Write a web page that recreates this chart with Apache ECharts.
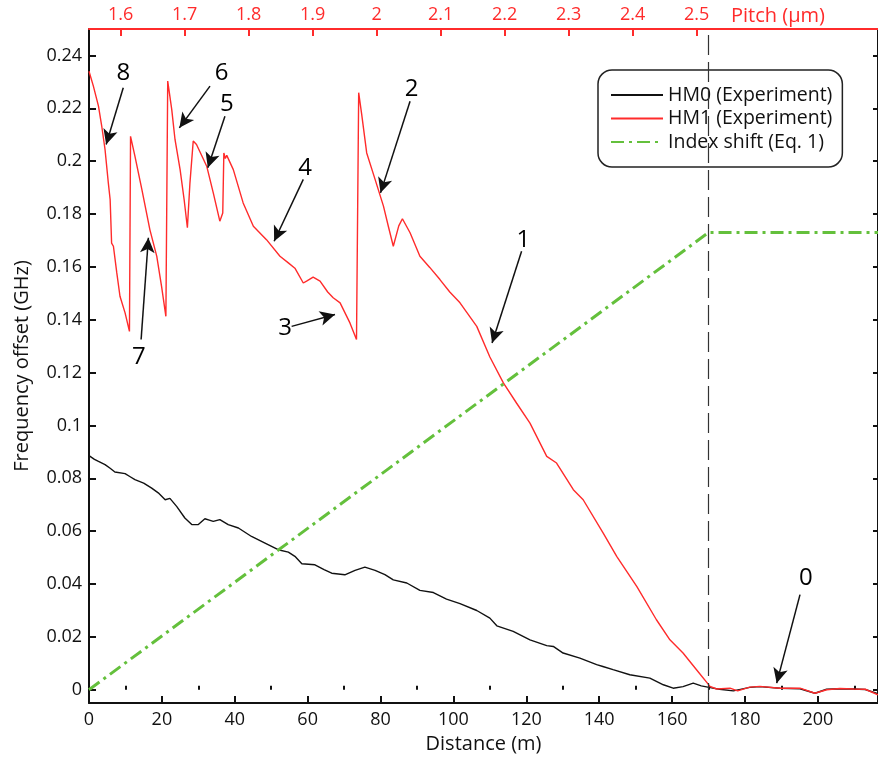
<!DOCTYPE html>
<html><head><meta charset="utf-8">
<script src="https://cdn.jsdelivr.net/npm/echarts@6/dist/echarts.min.js"></script>
<style>html,body{margin:0;padding:0;background:#fff}#c{width:878px;height:761px}</style>
</head><body><div id="c"></div>
<script>
const distanceTicks = [0,20,40,60,80,100,120,140,160,180,200];
const distanceMinorTicks = [10,30,50,70,90,110,130,150,170,190,210];
const offsetTicks = [0,0.02,0.04,0.06,0.08,0.1,0.12,0.14,0.16,0.18,0.2,0.22,0.24];
const pitchTicks = [1.6,1.7,1.8,1.9,2.0,2.1,2.2,2.3,2.4,2.5];
const pitchRange = [1.5505, 2.7835];
const distanceRange = [0, 216.5];
const offsetRange = [-0.005, 0.25];
const boundaryDistance = 170;

const hm0Points = [[0,0.0886],[0.5,0.0886],[1.5,0.0872],[2.6,0.0864],[4.4,0.0852],[5.8,0.0838],[7.1,0.0824],[9.9,0.0818],[11.3,0.0806],[12.6,0.0795],[15,0.0782],[17.2,0.0763],[19,0.0745],[20.9,0.0719],[22.2,0.0724],[24.1,0.0693],[26.3,0.065],[28.2,0.0625],[30.0,0.0625],[31.8,0.0647],[33,0.0642],[34.1,0.0637],[35.9,0.0644],[38.2,0.0625],[41.0,0.0612],[44.6,0.058],[48.3,0.0555],[51.9,0.053],[54.7,0.0521],[56.5,0.0505],[58.4,0.0477],[62.0,0.0473],[64.5,0.0455],[66.6,0.0441],[70.2,0.0435],[73.0,0.0452],[75.7,0.0464],[78.5,0.0452],[81.2,0.0436],[83.5,0.0416],[87.2,0.0404],[90.8,0.0376],[94.5,0.0368],[98.1,0.0343],[101.8,0.0326],[106.4,0.03],[110.0,0.0271],[111.9,0.0242],[116.4,0.0221],[121.0,0.0189],[125.6,0.0167],[127.4,0.0164],[130.1,0.0139],[134.7,0.012],[139.3,0.0095],[141,0.0088],[143.8,0.0076],[148.4,0.0057],[153.9,0.0044],[157.6,0.0019],[160.3,0.0006],[163,0.0012],[165.8,0.0025],[168,0.0015],[170.5,0.0008],[173,0.0002],[176.8,-0.0004],[181.3,0.0009],[184.1,0.0012],[189.6,0.0006],[195.1,0.0004],[199.2,-0.0013],[202.4,0.0002],[206,0.0004],[209.7,0.0003],[213,0.0001],[216.5,-0.0015]];

const hm1Points = [[0,0.234],[1.2,0.2284],[2.6,0.2208],[3.5,0.2132],[4.4,0.2044],[5.3,0.1918],[5.8,0.1855],[6.2,0.169],[6.7,0.1678],[7.6,0.158],[8.5,0.1489],[9.9,0.1426],[11.1,0.1356],[11.4,0.2094],[12.6,0.2019],[14.5,0.1893],[16.7,0.1741],[18.6,0.164],[19.9,0.1527],[21.1,0.1413],[21.6,0.2303],[22.7,0.2196],[23.6,0.2082],[25.0,0.1968],[26.1,0.1855],[27.0,0.1748],[27.7,0.1918],[28.6,0.2076],[29.5,0.2063],[32.3,0.1981],[34.1,0.188],[35.9,0.1773],[36.7,0.1804],[37.0,0.2031],[37.4,0.201],[37.8,0.2022],[39.6,0.1968],[42.3,0.1842],[45.1,0.1754],[48.7,0.1703],[52.4,0.164],[54.7,0.1615],[56.5,0.1595],[58.8,0.1539],[59.7,0.1546],[61.5,0.1561],[63.4,0.1546],[65.5,0.1505],[67.0,0.1483],[68.9,0.1464],[71.6,0.1388],[73.4,0.1325],[74.0,0.2259],[74.8,0.218],[76.2,0.2031],[78.5,0.1931],[80.8,0.183],[82.2,0.175],[83.5,0.1678],[85.0,0.1755],[86.0,0.1782],[88.1,0.1729],[90.8,0.164],[93.5,0.1598],[96.3,0.1552],[99,0.1505],[101.8,0.1464],[106.4,0.1375],[110.0,0.1259],[113.7,0.1161],[117.3,0.1085],[121.0,0.1009],[125.6,0.0883],[128.3,0.0858],[132.9,0.0757],[135.6,0.0719],[141.1,0.0593],[144.8,0.0505],[150.3,0.0391],[155.7,0.0265],[159.4,0.0189],[163.0,0.0139],[166.7,0.0076],[170.4,0.0013],[172.2,0.0003],[175.9,0.0006],[178,-0.0004],[181.3,0.001],[184.1,0.0013],[189.6,0.0006],[195.1,0.0006],[199.2,-0.0013],[202.4,0.0],[206,0.0005],[209.7,0.0003],[213,0.0002],[216.5,-0.0019]];

const indexShiftPoints = [[0,0],[170,0.173],[216.5,0.173]];

const annotationNames = ['0','1','2','3','4','5','6','7','8'];
const annotationLabelAt = [[196.7,0.0424],[119.2,0.1703],[88.5,0.2271],[53.8,0.1369],[59.3,0.1975],[37.8,0.2214],[36.4,0.2334],[13.7,0.1257],[9.4,0.2334]];
const annotationTail = [[195.1,0.036],[118.7,0.1659],[88.1,0.2227],[55.6,0.1375],[58.8,0.1931],[37.3,0.217],[33.2,0.2284],[14.3,0.1325],[9.4,0.2278]];
const annotationTip = [[188.7,0.0025],[110.6,0.1312],[80.0,0.188],[67.5,0.142],[50.8,0.1697],[32.6,0.1975],[24.8,0.2126],[16.3,0.171],[4.7,0.2063]];

const FONT = "'Open Sans', sans-serif";
const RED = '#ff2b2b';
const GREEN = '#64c03c';
const INK = '#111';

const chart = echarts.init(document.getElementById('c'), null, {renderer: 'canvas'});
const option = {
  animation: false,
  backgroundColor: '#fff',
  grid: [
    {left: 89, right: 0, top: 29, bottom: 58},
    {left: 89, right: 0, top: 29, bottom: 58}
  ],
  legend: {
    orient: 'vertical', left: 598, top: 70,
    padding: [15, 10, 15, 12], itemGap: 3.5, itemWidth: 52, itemHeight: 14,
    backgroundColor: '#fff', borderColor: '#222', borderWidth: 1.5, borderRadius: 14,
    itemStyle: {opacity: 0},
    textStyle: {fontSize: 19.5, fontFamily: FONT, color: INK, lineHeight: 20},
    data: ['HM0 (Experiment)', 'HM1 (Experiment)', 'Index shift (Eq. 1)'],
    selectedMode: false
  },
  xAxis: [
    {
      type: 'value', gridIndex: 0, position: 'bottom', min: distanceRange[0], max: distanceRange[1],
      axisLine: {show: true, onZero: false, lineStyle: {color: INK, width: 2}},
      axisTick: {show: true, inside: true, length: 7, customValues: distanceTicks, lineStyle: {color: INK, width: 2}},
      axisLabel: {customValues: distanceTicks, fontSize: 18, fontFamily: FONT, color: INK, margin: 8},
      splitLine: {show: false},
      name: 'Distance (m)', nameLocation: 'middle', nameGap: 31,
      nameTextStyle: {fontSize: 20, fontFamily: FONT, color: INK}
    },
    {
      type: 'value', gridIndex: 0, position: 'top', min: pitchRange[0], max: pitchRange[1],
      axisLine: {show: true, onZero: false, lineStyle: {color: RED, width: 2}},
      axisTick: {show: true, inside: true, length: 7, customValues: pitchTicks, lineStyle: {color: RED, width: 2}},
      axisLabel: {customValues: pitchTicks, fontSize: 18, fontFamily: FONT, color: RED, margin: 5,
        formatter: v => String(Math.round(v * 10) / 10)},
      splitLine: {show: false},
      name: 'Pitch (μm)', nameLocation: 'end', nameGap: -147,
      nameTextStyle: {fontSize: 20, fontFamily: FONT, color: RED, align: 'left', verticalAlign: 'bottom', padding: [0, 0, 3, 0]}
    },
    {
      type: 'value', gridIndex: 1, position: 'bottom', min: distanceRange[0], max: distanceRange[1],
      axisLine: {show: false},
      axisTick: {show: true, inside: true, length: 4, customValues: distanceMinorTicks, lineStyle: {color: INK, width: 2}},
      axisLabel: {show: false},
      splitLine: {show: false}
    }
  ],
  yAxis: [
    {
      type: 'value', gridIndex: 0, position: 'left', min: offsetRange[0], max: offsetRange[1],
      axisLine: {show: true, onZero: false, lineStyle: {color: INK, width: 2}},
      axisTick: {show: true, inside: true, length: 7, customValues: offsetTicks, lineStyle: {color: INK, width: 2}},
      axisLabel: {customValues: offsetTicks, fontSize: 18, fontFamily: FONT, color: INK, margin: 7},
      splitLine: {show: false},
      name: 'Frequency offset (GHz)', nameLocation: 'middle', nameGap: 57,
      nameTextStyle: {fontSize: 20, fontFamily: FONT, color: INK}
    },
    {
      type: 'value', gridIndex: 0, position: 'right', min: offsetRange[0], max: offsetRange[1],
      axisLine: {show: true, onZero: false, lineStyle: {color: INK, width: 2}},
      axisTick: {show: true, inside: true, length: 5, customValues: offsetTicks, lineStyle: {color: INK, width: 2}},
      axisLabel: {show: false},
      splitLine: {show: false}
    },
    {
      type: 'value', gridIndex: 1, min: offsetRange[0], max: offsetRange[1], show: false
    }
  ],
  series: [
    {
      name: 'HM0 (Experiment)', type: 'line', xAxisIndex: 0, yAxisIndex: 0,
      data: hm0Points, symbol: 'none', showSymbol: false,
      lineStyle: {color: INK, width: 1.4}, itemStyle: {color: INK},
      emphasis: {disabled: true},
      markLine: {
        silent: true, symbol: ['none', 'none'], label: {show: false},
        lineStyle: {color: '#333', type: [20, 7], width: 1.2},
        emphasis: {disabled: true},
        data: [{xAxis: boundaryDistance}]
      }
    },
    {
      name: 'HM1 (Experiment)', type: 'line', xAxisIndex: 0, yAxisIndex: 0,
      data: hm1Points, symbol: 'none', showSymbol: false,
      lineStyle: {color: RED, width: 1.4}, itemStyle: {color: RED},
      emphasis: {disabled: true}
    },
    {
      name: 'Index shift (Eq. 1)', type: 'line', xAxisIndex: 0, yAxisIndex: 0,
      data: indexShiftPoints, symbol: 'none', showSymbol: false,
      lineStyle: {color: GREEN, width: 3, type: [13, 5, 3, 5]}, itemStyle: {color: GREEN},
      emphasis: {disabled: true}
    },
    {
      name: 'annotations', type: 'scatter', xAxisIndex: 0, yAxisIndex: 0,
      data: annotationLabelAt.map((p, i) => ({value: p, name: annotationNames[i]})),
      symbolSize: 1, itemStyle: {color: '#fff', opacity: 1},
      label: {show: true, position: 'inside', formatter: '{b}', fontSize: 24, fontFamily: FONT,
        color: '#000', textBorderWidth: 0, opacity: 1},
      emphasis: {disabled: true}, silent: true,
      markLine: {
        silent: true, symbol: ['none', 'arrow'], symbolSize: [11, 15], label: {show: false},
        lineStyle: {color: INK, width: 1.5, type: 'solid'},
        emphasis: {disabled: true},
        data: annotationTail.map((t, i) => [{coord: t}, {coord: annotationTip[i]}])
      }
    }
  ]
};
chart.setOption(option);
</script>
</body></html>
